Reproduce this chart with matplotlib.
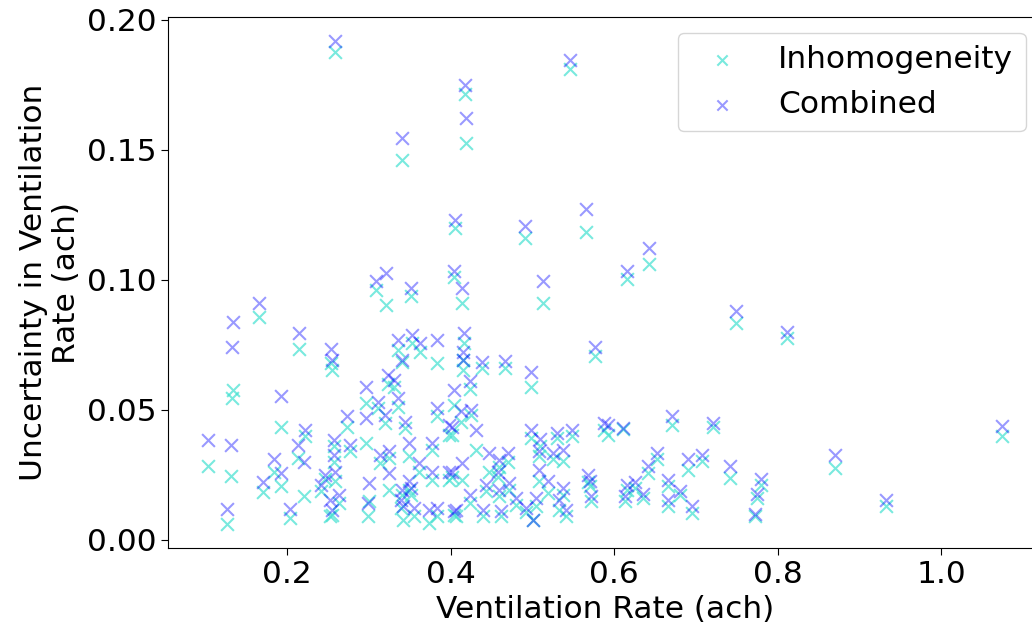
import matplotlib
matplotlib.use('Agg')
from matplotlib import pyplot as plt

# ventilation rate (ach) for each test
vent_rate = [0.258, 0.546, 0.417, 0.419, 0.340, 0.4046, 0.491, 0.566, 0.404, 0.308,
             0.321, 0.352, 0.414, 0.513, 0.165, 0.642, 0.616, 0.134, 0.132, 0.215,
             0.2535, 0.2545, 0.193, 0.103, 0.131, 0.222, 0.213, 0.220, 0.184, 0.1925,
             0.170, 0.1265, 0.204, 0.2416, 0.2457, 0.2527, 0.257, 0.257, 0.3357, 0.353,
             0.362, 0.383, 0.340, 0.3235, 0.330, 0.2965, 0.3357, 0.311, 0.320, 0.273,
             0.2965, 0.344, 0.3837, 0.398, 0.277, 0.325, 0.314, 0.349, 0.3775, 0.2588,
             0.325, 0.361, 0.3775, 0.398, 0.2998, 0.349, 0.351, 0.263, 0.299, 0.3386,
             0.341, 0.355, 0.3735, 0.3837, 0.404, 0.2547, 0.3407, 0.4165, 0.415, 0.415,
             0.438, 0.4668, 0.4983, 0.576, 0.404, 0.4234, 0.4124, 0.4246, 0.431, 0.402,
             0.4983, 0.5086, 0.530, 0.5488, 0.537, 0.525, 0.447, 0.4697, 0.4586, 0.414,
             0.402, 0.508, 0.508, 0.4575, 0.4717, 0.443, 0.519, 0.537, 0.568, 0.570,
             0.572, 0.4234, 0.4595, 0.480, 0.5045, 0.533, 0.407, 0.439, 0.4615, 0.492,
             0.500, 0.541, 0.749, 0.8117, 0.5925, 0.588, 0.611, 0.670, 0.7207, 0.652,
             0.6417, 0.6896, 0.707, 0.741, 0.779, 0.774, 0.7715, 0.615, 0.613, 0.625,
             0.6355, 0.666, 0.666, 0.6806, 0.695, 1.0737, 0.8698, 0.9324]

# uncertainty from inhomogeneity only
unc_inhom = [0.1875, 0.1811, 0.1713, 0.1527, 0.1459, 0.1197, 0.1159, 0.1184, 0.1011, 0.096,
             0.0902, 0.0937, 0.091, 0.0911, 0.0858, 0.1062, 0.1001, 0.0576, 0.0544, 0.0732,
             0.068, 0.0653, 0.0435, 0.0282, 0.0243, 0.0397, 0.0314, 0.0166, 0.0262, 0.0205,
             0.0183, 0.006, 0.0083, 0.0186, 0.0235, 0.0092, 0.036, 0.030, 0.073, 0.0755,
             0.0723, 0.068, 0.0685, 0.060, 0.0589, 0.0525, 0.051, 0.0507, 0.0448, 0.0435,
             0.0371, 0.043, 0.0474, 0.0403, 0.034, 0.0314, 0.0294, 0.032, 0.0346, 0.0224,
             0.0192, 0.0262, 0.023, 0.023, 0.0147, 0.019, 0.017, 0.0141, 0.0089, 0.012,
             0.0077, 0.0089, 0.0064, 0.0089, 0.0095, 0.0095, 0.017, 0.0755, 0.0691, 0.0653,
             0.066, 0.0661, 0.0589, 0.0707, 0.0518, 0.058, 0.0454, 0.048, 0.0346, 0.0403,
             0.039, 0.036, 0.039, 0.040, 0.0301, 0.031, 0.026, 0.030, 0.028, 0.023,
             0.024, 0.0224, 0.032, 0.024, 0.019, 0.0186, 0.0179, 0.017, 0.022, 0.0205,
             0.015, 0.0141, 0.0166, 0.0135, 0.0128, 0.0115, 0.009, 0.0089, 0.009, 0.0105,
             0.0074, 0.0089, 0.0832, 0.0775, 0.0403, 0.042, 0.0425, 0.0442, 0.0433, 0.031,
             0.0256, 0.0269, 0.0301, 0.0237, 0.021, 0.016, 0.009, 0.019, 0.015, 0.020,
             0.016, 0.0205, 0.013, 0.017, 0.0102, 0.0397, 0.0275, 0.0128]

# combined uncertainty
unc_comb = [0.1917, 0.1843, 0.1747, 0.162, 0.1545, 0.1229, 0.1206, 0.1271, 0.1033, 0.0996,
            0.1024, 0.0967, 0.0967, 0.0996, 0.0911, 0.1123, 0.1033, 0.0836, 0.074, 0.0794,
            0.0732, 0.0691, 0.0553, 0.0384, 0.0365, 0.042, 0.0365, 0.0297, 0.031, 0.0258,
            0.022, 0.0118, 0.0118, 0.0211, 0.025, 0.0154, 0.0384, 0.0326, 0.0768, 0.0787,
            0.0755, 0.0768, 0.0691, 0.0634, 0.0614, 0.0589, 0.0544, 0.0531, 0.048, 0.0474,
            0.0467, 0.0454, 0.0506, 0.0442, 0.0365, 0.0339, 0.0326, 0.0371, 0.0371, 0.0262,
            0.0256, 0.0294, 0.0262, 0.0262, 0.0218, 0.0224, 0.0198, 0.0173, 0.0141, 0.0154,
            0.0128, 0.0122, 0.0115, 0.0122, 0.0109, 0.0115, 0.0192, 0.0794, 0.0723, 0.0691,
            0.0685, 0.0689, 0.0646, 0.074, 0.0576, 0.0612, 0.0493, 0.050, 0.0422, 0.0435,
            0.0422, 0.0387, 0.0412, 0.0422, 0.0343, 0.0335, 0.0333, 0.0335, 0.0307, 0.0294,
            0.0262, 0.0269, 0.034, 0.0262, 0.0218, 0.0211, 0.0224, 0.0198, 0.025, 0.0224,
            0.0169, 0.0173, 0.0192, 0.016, 0.016, 0.0154, 0.0115, 0.0115, 0.0109, 0.0122,
            0.0077, 0.0115, 0.0881, 0.080, 0.0442, 0.0448, 0.0429, 0.0476, 0.045, 0.0333,
            0.0284, 0.031, 0.0326, 0.0284, 0.0233, 0.0177, 0.010, 0.0211, 0.0166, 0.022,
            0.0177, 0.0228, 0.0151, 0.0186, 0.0128, 0.0438, 0.0326, 0.0154]

plt.rcParams['font.size'] = 22.5

fig = plt.figure(figsize=(10.32, 6.33), dpi=100)
# the original figure is cut at the right, so the axes run a bit past the edge
ax = fig.add_axes([0.163, 0.134, 0.846, 0.839])

ax.scatter(vent_rate, unc_inhom, marker='x', s=85, linewidths=1.5,
           color='turquoise', alpha=0.7, label='Inhomogeneity')
ax.scatter(vent_rate, unc_comb, marker='x', s=85, linewidths=1.5,
           color='b', alpha=0.4, label='Combined')

ax.set_xlabel('Ventilation Rate (ach)')
ax.set_ylabel('Uncertainty in Ventilation\nRate (ach)')
ax.set_yticks([0.0, 0.05, 0.10, 0.15, 0.20])
ax.set_yticklabels(['0.00', '0.05', '0.10', '0.15', '0.20'])
ax.tick_params(length=5)

ax.legend(loc='upper right', markerscale=0.8)

fig.savefig('out.png', dpi=100)
